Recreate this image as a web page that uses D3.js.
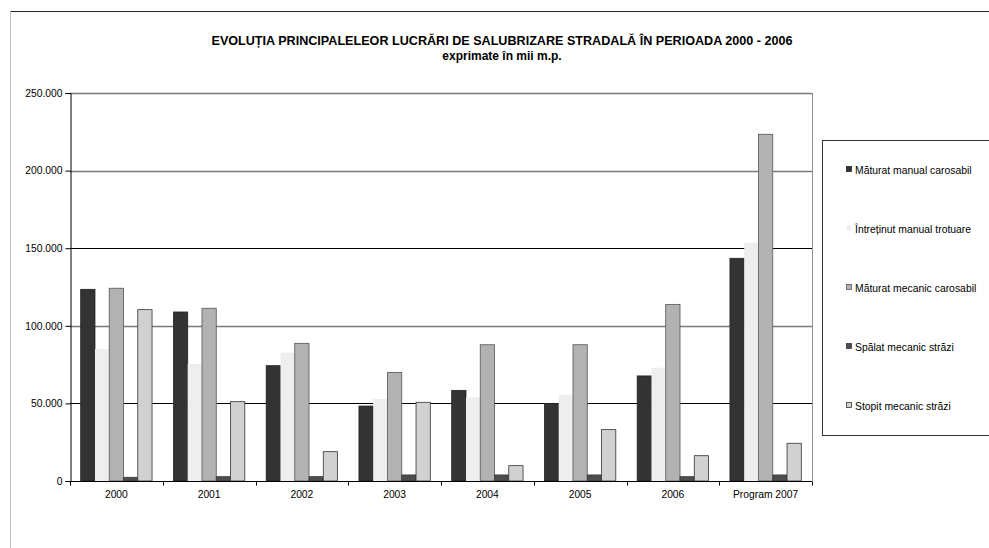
<!DOCTYPE html>
<html>
<head>
<meta charset="utf-8">
<script src="https://cdn.jsdelivr.net/npm/d3@7"></script>
<style>
  body { margin: 0; background: #fff; }
  text { font-family: "Liberation Sans", Arial, sans-serif; }
</style>
</head>
<body>
<div id="chart"></div>
<script>
// categories on the x axis
const categories = ["2000", "2001", "2002", "2003", "2004", "2005", "2006", "Program 2007"];

// series (mii m.p.)
const seriesNames = [
    "Măturat manual carosabil",
    "Întreținut manual trotuare",
    "Măturat mecanic carosabil",
    "Spălat mecanic străzi",
    "Stopit mecanic străzi"
];
const maturatManual   = [123500, 108900, 74300, 48300, 58400, 50000, 67700, 143500];
const intretinutManual = [85000, 75400, 82700, 52800, 53900, 55600, 73000, 153600];
const maturatMecanic  = [124200, 111300, 88700, 70000, 87800, 87800, 113800, 223400];
const spalatMecanic   = [2400, 2800, 2800, 3900, 3900, 3900, 2800, 3900];
const stopitMecanic   = [110400, 51100, 18900, 50700, 9900, 33100, 16300, 24300];

const yTicks = [0, 50000, 100000, 150000, 200000, 250000];

const seriesValues = [maturatManual, intretinutManual, maturatMecanic, spalatMecanic, stopitMecanic];

// styles per series
const fills   = ["#333333", "#eeeeee", "#b2b2b2", "#4d4d4d", "#d1d1d1"];
const strokes = ["#222222", "none", "#555555", "#3a3a3a", "#333333"];

const width = 989, height = 548;

const svg = d3.select("#chart").append("svg")
    .attr("width", width)
    .attr("height", height);

// outer chart frame (only top and left edges visible)
svg.append("line").attr("x1", 10).attr("x2", width).attr("y1", 11.5).attr("y2", 11.5)
    .attr("stroke", "#222").attr("stroke-width", 1);
svg.append("line").attr("x1", 10.5).attr("x2", 10.5).attr("y1", 11).attr("y2", height)
    .attr("stroke", "#c0c0c0").attr("stroke-width", 1);

// title
svg.append("text")
    .attr("x", 502).attr("y", 45)
    .attr("text-anchor", "middle")
    .style("font-size", "12.6px").style("font-weight", "bold")
    .text("EVOLUȚIA PRINCIPALELEOR LUCRĂRI DE SALUBRIZARE STRADALĂ ÎN PERIOADA 2000 - 2006");
svg.append("text")
    .attr("x", 502).attr("y", 59.5)
    .attr("text-anchor", "middle")
    .style("font-size", "12px").style("font-weight", "bold")
    .text("exprimate în mii m.p.");

// plot area
const plot = {left: 70, right: 812, top: 93, bottom: 481};

const x = d3.scaleBand()
    .domain(categories)
    .range([plot.left, plot.right])
    .padding(0);

const xInner = d3.scaleBand()
    .domain(d3.range(seriesNames.length))
    .range([0, x.bandwidth()])
    .paddingInner(0)
    .paddingOuter(0.75);

const y = d3.scaleLinear()
    .domain([0, 250000])
    .range([plot.bottom, plot.top]);

const ro = d3.formatLocale({decimal: ",", thousands: ".", grouping: [3], currency: ["", " lei"]});
const fmt = ro.format(",.0f");

// gridlines
const gridColors = ["#000", "#000", "#7a7a7a", "#000", "#7a7a7a", "#7a7a7a"];
svg.append("g").selectAll("line")
    .data(yTicks.slice(1))
    .join("line")
    .attr("x1", plot.left).attr("x2", plot.right)
    .attr("y1", d => Math.round(y(d)) + 0.5)
    .attr("y2", d => Math.round(y(d)) + 0.5)
    .attr("stroke", (d, i) => gridColors[i + 1])
    .attr("stroke-width", (d, i) => gridColors[i + 1] === "#000" ? 1 : 1.4);

// right edge of plot area
svg.append("line")
    .attr("x1", plot.right + 0.5).attr("x2", plot.right + 0.5)
    .attr("y1", plot.top).attr("y2", plot.bottom)
    .attr("stroke", "#909090");

// bars
const groups = svg.append("g").selectAll("g")
    .data(categories)
    .join("g")
    .attr("transform", d => `translate(${x(d)},0)`);

groups.selectAll("rect")
    .data((c, ci) => seriesValues.map((vals, si) => ({si: si, v: vals[ci]})))
    .join("rect")
    .attr("x", d => xInner(d.si))
    .attr("width", xInner.bandwidth())
    .attr("y", d => y(d.v))
    .attr("height", d => y(0) - y(d.v))
    .attr("fill", d => fills[d.si])
    .attr("stroke", d => strokes[d.si])
    .attr("stroke-width", 0.8);

// y axis
const yAxis = svg.append("g")
    .attr("transform", `translate(${plot.left + 0.5},0)`)
    .call(d3.axisLeft(y).tickValues(yTicks).tickFormat(fmt).tickSize(5).tickPadding(3));
yAxis.select(".domain").attr("stroke", "#000");
yAxis.selectAll("text").style("font-size", "10.3px").attr("fill", "#000")
    .style("font-family", "'Liberation Sans', Arial, sans-serif");

// x axis
const xTickPos = d3.range(categories.length + 1).map(i => plot.left + i * x.step());
const xAxis = svg.append("g").attr("transform", `translate(0,${plot.bottom + 0.5})`);
xAxis.append("line").attr("x1", plot.left).attr("x2", plot.right).attr("stroke", "#000");
xAxis.selectAll(".tk").data(xTickPos).join("line")
    .attr("class", "tk")
    .attr("x1", d => Math.round(d) + 0.5).attr("x2", d => Math.round(d) + 0.5)
    .attr("y1", 0).attr("y2", 4)
    .attr("stroke", "#000");
xAxis.selectAll("text").data(categories).join("text")
    .attr("x", d => x(d) + x.bandwidth() / 2)
    .attr("y", 16)
    .attr("text-anchor", "middle")
    .style("font-size", "10.3px")
    .text(d => d);

// legend
const legend = svg.append("g");
legend.append("rect")
    .attr("x", 822.5).attr("y", 140.5)
    .attr("width", 180).attr("height", 295)
    .attr("fill", "#fff").attr("stroke", "#333");

const legendY = d3.scalePoint()
    .domain(d3.range(seriesNames.length))
    .range([170, 406]);

const items = legend.selectAll(".item")
    .data(seriesNames)
    .join("g")
    .attr("class", "item")
    .attr("transform", (d, i) => `translate(846,${legendY(i)})`);
items.append("rect")
    .attr("x", 0.5).attr("y", -3.5)
    .attr("width", 5).attr("height", 5)
    .attr("fill", (d, i) => fills[i])
    .attr("stroke", (d, i) => strokes[i])
    .attr("stroke-width", 0.8);
items.append("text")
    .attr("x", 9).attr("y", 4)
    .style("font-size", "10.4px")
    .text(d => d);
</script>
</body>
</html>
